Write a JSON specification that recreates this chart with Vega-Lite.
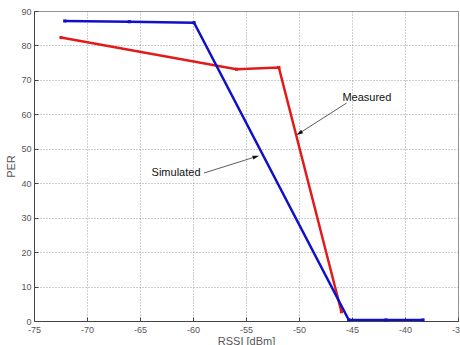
{
  "$schema": "https://vega.github.io/schema/vega-lite/v6.json",
  "autosize": "none",
  "width": 424,
  "height": 310,
  "padding": {"left": 34, "top": 11, "right": 2, "bottom": 24},
  "background": "white",
  "config": {
    "view": {"stroke": "#999999", "strokeWidth": 1},
    "font": "Liberation Sans",
    "axis": {
      "labelFont": "Liberation Sans",
      "titleFont": "Liberation Sans",
      "labelFontSize": 9,
      "labelColor": "#555555",
      "titleFontSize": 11,
      "titleColor": "#555555",
      "titleFontWeight": "normal",
      "domainColor": "#444444",
      "tickColor": "#444444",
      "tickSize": -4,
      "labelOverlap": false,
      "gridColor": "#888888",
      "gridDash": [1, 2],
      "gridOpacity": 0.8,
      "gridWidth": 1
    },
    "axisX": {"labelPadding": 8, "titlePadding": 1, "labelFlush": false},
    "axisY": {"labelPadding": 7, "titlePadding": 4}
  },
  "datasets": {
    "curves": [
      {"series": "Measured", "rssi": -72.45, "per": 82.3},
      {"series": "Measured", "rssi": -55.9, "per": 73.1},
      {"series": "Measured", "rssi": -51.9, "per": 73.6},
      {"series": "Measured", "rssi": -46.0, "per": 2.7},
      {"series": "Simulated", "rssi": -72.1, "per": 87.1},
      {"series": "Simulated", "rssi": -66.0, "per": 86.9},
      {"series": "Simulated", "rssi": -59.9, "per": 86.6},
      {"series": "Simulated", "rssi": -45.3, "per": 0.3},
      {"series": "Simulated", "rssi": -41.8, "per": 0.3},
      {"series": "Simulated", "rssi": -38.3, "per": 0.3}
    ],
    "notes": [
      {"label": "Simulated", "x": -58.96, "y": 42.96, "x2": -54.06, "y2": 47.7, "tx": -61.6, "ty": 43.0},
      {"label": "Measured", "x": -45.5, "y": 63.3, "x2": -49.97, "y2": 54.5, "tx": -43.6, "ty": 64.7}
    ]
  },
  "layer": [
    {
      "data": {"name": "curves"},
      "mark": {"type": "line", "strokeWidth": 2.5, "clip": true},
      "encoding": {
        "x": {
          "field": "rssi", "type": "quantitative",
          "scale": {"domain": [-75, -35], "nice": false, "zero": false},
          "axis": {"title": "RSSI [dBm]", "values": [-75, -70, -65, -60, -55, -50, -45, -40, -35], "labelExpr": "'' + datum.value"}
        },
        "y": {
          "field": "per", "type": "quantitative",
          "scale": {"domain": [0, 90], "nice": false},
          "axis": {"title": "PER", "values": [0, 10, 20, 30, 40, 50, 60, 70, 80, 90], "tickCount": 10}
        },
        "color": {
          "field": "series", "type": "nominal",
          "scale": {"domain": ["Measured", "Simulated"], "range": ["#e21a1a", "#1010c8"]},
          "legend": null
        },
        "order": {"field": "rssi"}
      }
    },
    {
      "data": {"name": "curves"},
      "mark": {"type": "point", "filled": true, "size": 10, "opacity": 1, "shape": "square"},
      "encoding": {
        "x": {"field": "rssi", "type": "quantitative", "axis": {"title": "RSSI [dBm]", "values": [-75, -70, -65, -60, -55, -50, -45, -40, -35], "labelExpr": "'' + datum.value"}},
        "y": {"field": "per", "type": "quantitative", "axis": {"title": "PER", "values": [0, 10, 20, 30, 40, 50, 60, 70, 80, 90], "tickCount": 10}},
        "color": {"field": "series", "type": "nominal", "legend": null}
      }
    },
    {
      "data": {"name": "notes"},
      "mark": {"type": "rule", "color": "#333333", "strokeWidth": 0.8},
      "encoding": {
        "x": {"field": "x", "type": "quantitative", "axis": {"title": "RSSI [dBm]", "values": [-75, -70, -65, -60, -55, -50, -45, -40, -35], "labelExpr": "'' + datum.value"}},
        "y": {"field": "y", "type": "quantitative", "axis": {"title": "PER", "values": [0, 10, 20, 30, 40, 50, 60, 70, 80, 90], "tickCount": 10}},
        "x2": {"field": "x2"},
        "y2": {"field": "y2"}
      }
    },
    {
      "data": {"name": "notes"},
      "transform": [{"filter": "datum.label === 'Simulated'"}],
      "mark": {"type": "point", "shape": "M0,-1L0.6,1L-0.6,1Z", "filled": true, "color": "#111111", "size": 45, "angle": 72.6, "opacity": 1},
      "encoding": {
        "x": {"field": "x2", "type": "quantitative"},
        "y": {"field": "y2", "type": "quantitative"}
      }
    },
    {
      "data": {"name": "notes"},
      "transform": [{"filter": "datum.label === 'Measured'"}],
      "mark": {"type": "point", "shape": "M0,-1L0.6,1L-0.6,1Z", "filled": true, "color": "#111111", "size": 45, "angle": 237.4, "opacity": 1},
      "encoding": {
        "x": {"field": "x2", "type": "quantitative"},
        "y": {"field": "y2", "type": "quantitative"}
      }
    },
    {
      "data": {"name": "notes"},
      "mark": {"type": "text", "font": "Liberation Sans", "fontSize": 11, "color": "#111111", "align": "center", "baseline": "middle"},
      "encoding": {
        "x": {"field": "tx", "type": "quantitative"},
        "y": {"field": "ty", "type": "quantitative"},
        "text": {"field": "label"}
      }
    }
  ]
}
